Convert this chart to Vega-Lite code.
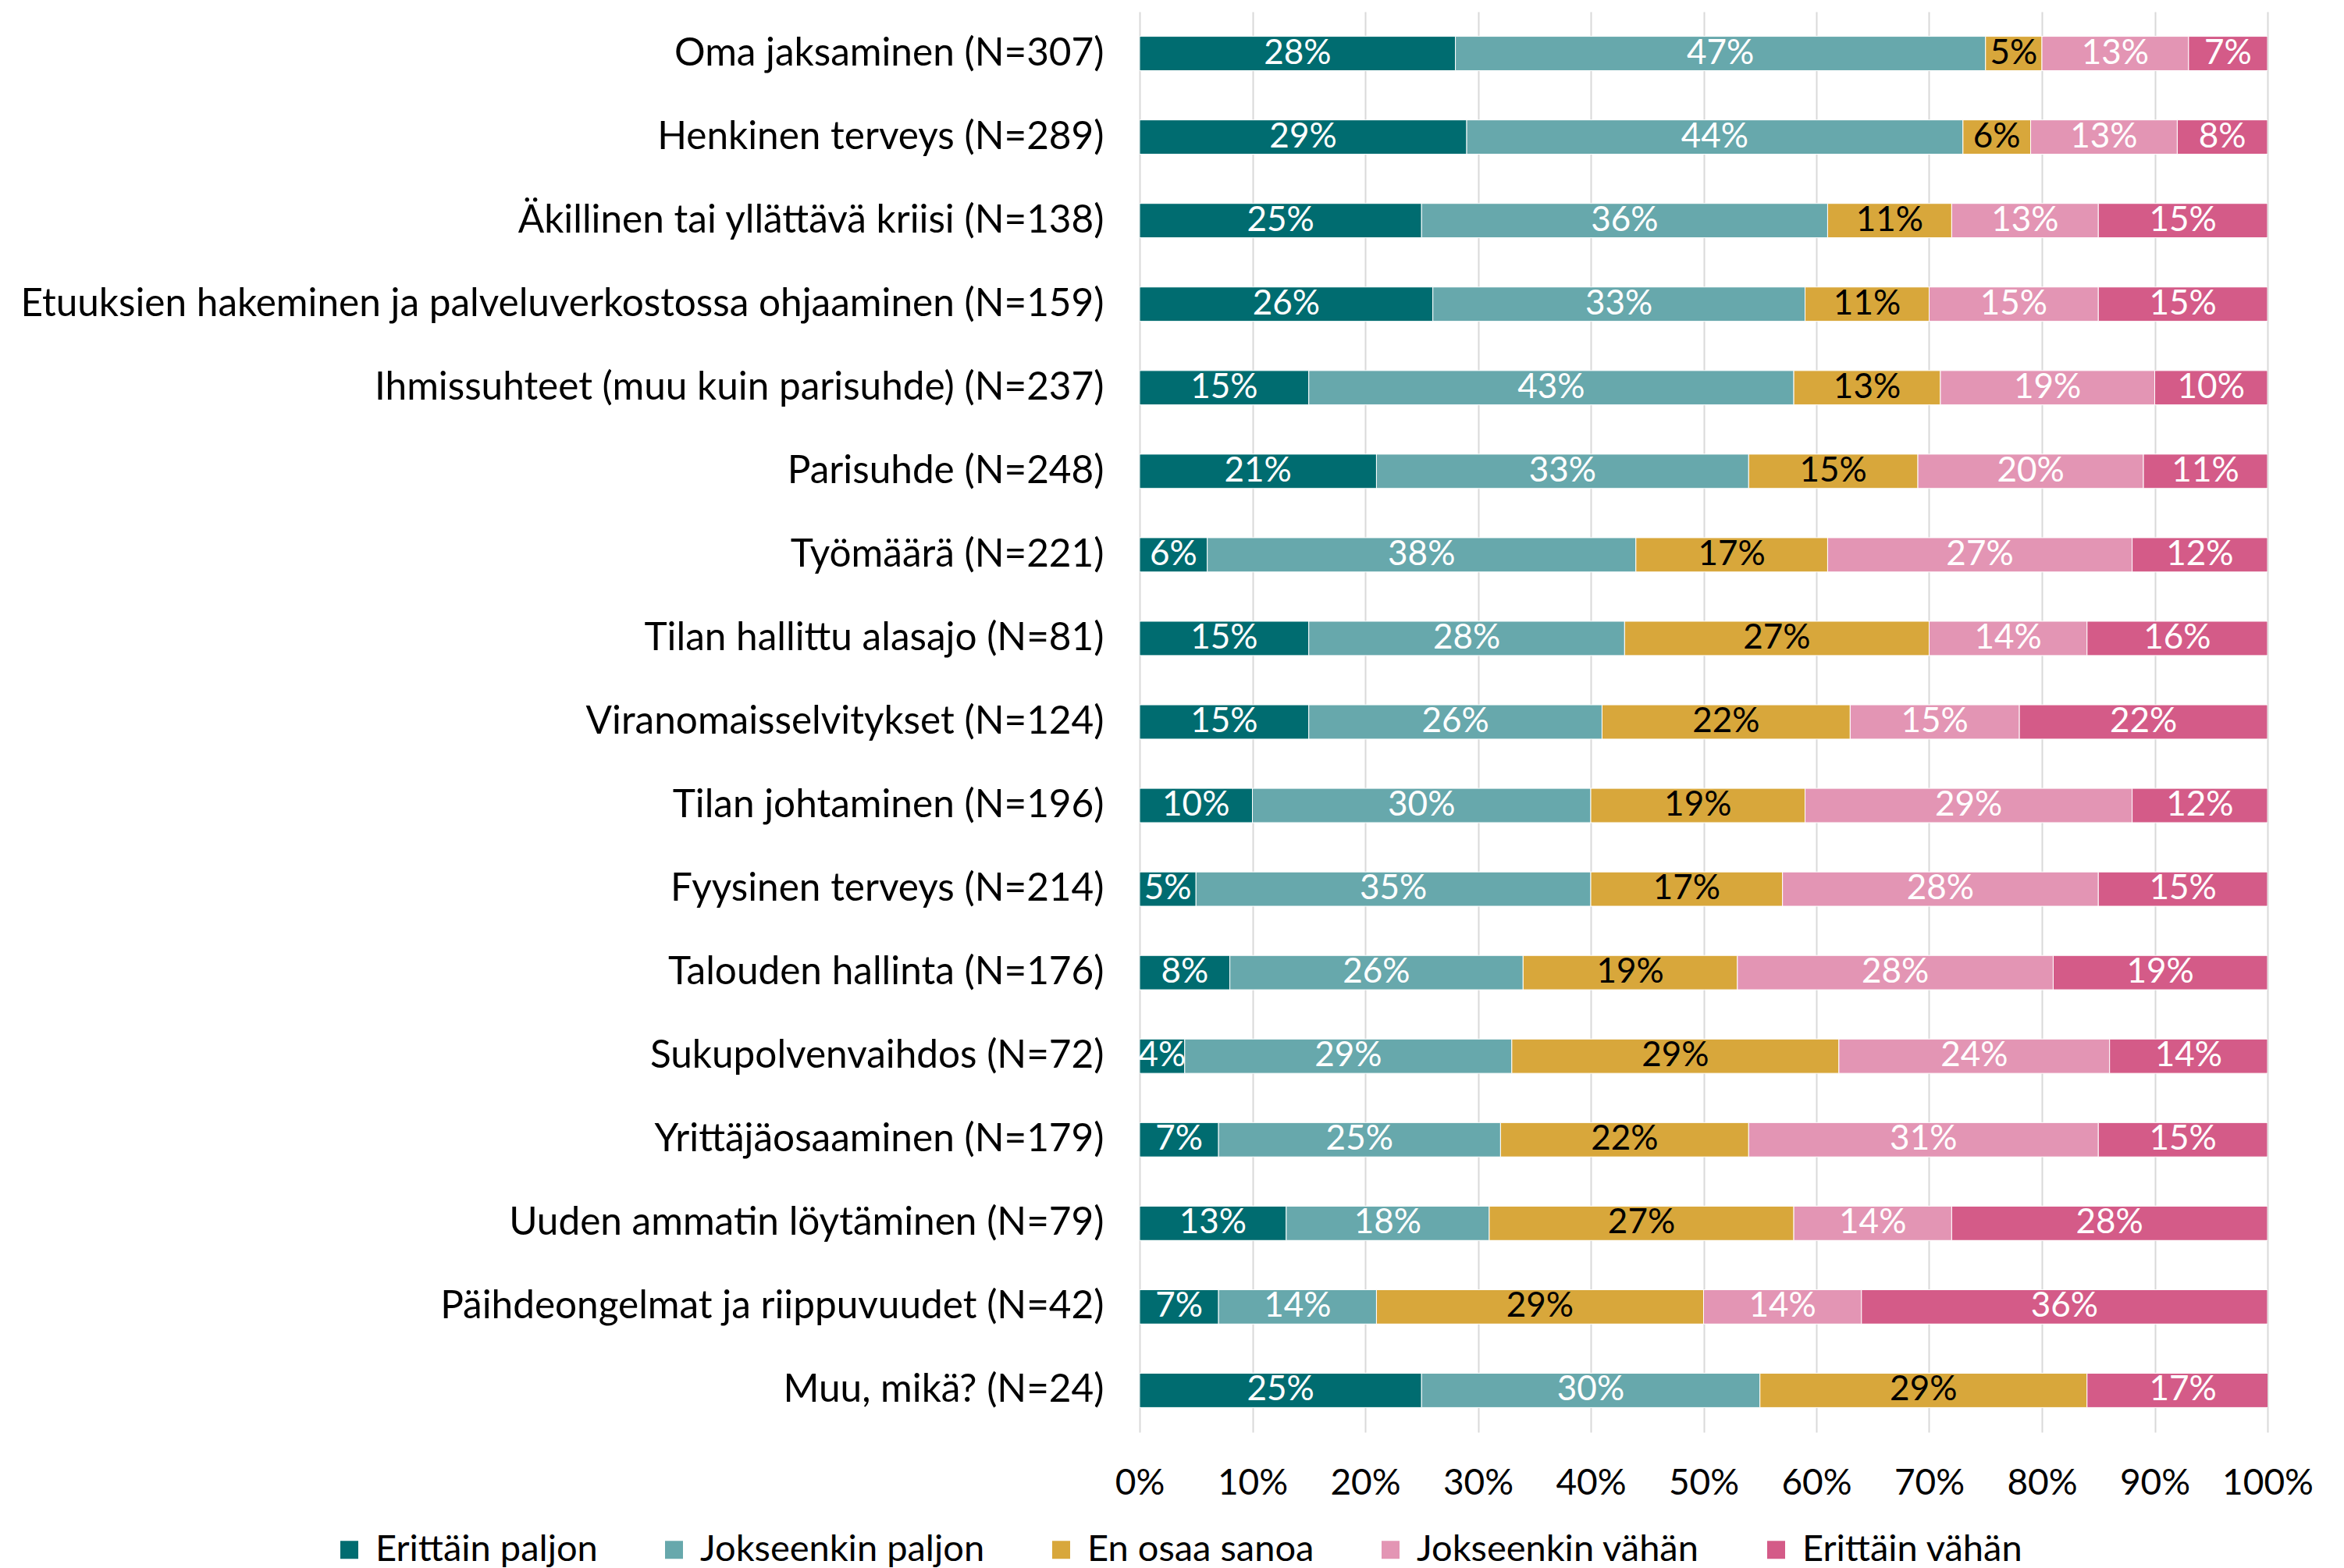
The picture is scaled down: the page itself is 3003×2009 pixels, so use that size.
{
  "$schema": "https://vega.github.io/schema/vega-lite/v6.json",
  "width": 1445,
  "height": 1820,
  "autosize": {"type": "none"},
  "padding": {"left": 1460, "top": 15, "right": 98, "bottom": 174},
  "background": "white",
  "config": {"font": "Lato", "view": {"stroke": null}},
  "data": {"values": [
    {"c": "Oma jaksaminen (N=307)", "s": "Erittäin paljon", "k": 1, "v": 0.28},
    {"c": "Oma jaksaminen (N=307)", "s": "Jokseenkin paljon", "k": 2, "v": 0.47},
    {"c": "Oma jaksaminen (N=307)", "s": "En osaa sanoa", "k": 3, "v": 0.05},
    {"c": "Oma jaksaminen (N=307)", "s": "Jokseenkin vähän", "k": 4, "v": 0.13},
    {"c": "Oma jaksaminen (N=307)", "s": "Erittäin vähän", "k": 5, "v": 0.07},
    {"c": "Henkinen terveys (N=289)", "s": "Erittäin paljon", "k": 1, "v": 0.29},
    {"c": "Henkinen terveys (N=289)", "s": "Jokseenkin paljon", "k": 2, "v": 0.44},
    {"c": "Henkinen terveys (N=289)", "s": "En osaa sanoa", "k": 3, "v": 0.06},
    {"c": "Henkinen terveys (N=289)", "s": "Jokseenkin vähän", "k": 4, "v": 0.13},
    {"c": "Henkinen terveys (N=289)", "s": "Erittäin vähän", "k": 5, "v": 0.08},
    {"c": "Äkillinen tai yllättävä kriisi (N=138)", "s": "Erittäin paljon", "k": 1, "v": 0.25},
    {"c": "Äkillinen tai yllättävä kriisi (N=138)", "s": "Jokseenkin paljon", "k": 2, "v": 0.36},
    {"c": "Äkillinen tai yllättävä kriisi (N=138)", "s": "En osaa sanoa", "k": 3, "v": 0.11},
    {"c": "Äkillinen tai yllättävä kriisi (N=138)", "s": "Jokseenkin vähän", "k": 4, "v": 0.13},
    {"c": "Äkillinen tai yllättävä kriisi (N=138)", "s": "Erittäin vähän", "k": 5, "v": 0.15},
    {"c": "Etuuksien hakeminen ja palveluverkostossa ohjaaminen (N=159)", "s": "Erittäin paljon", "k": 1, "v": 0.26},
    {"c": "Etuuksien hakeminen ja palveluverkostossa ohjaaminen (N=159)", "s": "Jokseenkin paljon", "k": 2, "v": 0.33},
    {"c": "Etuuksien hakeminen ja palveluverkostossa ohjaaminen (N=159)", "s": "En osaa sanoa", "k": 3, "v": 0.11},
    {"c": "Etuuksien hakeminen ja palveluverkostossa ohjaaminen (N=159)", "s": "Jokseenkin vähän", "k": 4, "v": 0.15},
    {"c": "Etuuksien hakeminen ja palveluverkostossa ohjaaminen (N=159)", "s": "Erittäin vähän", "k": 5, "v": 0.15},
    {"c": "Ihmissuhteet (muu kuin parisuhde) (N=237)", "s": "Erittäin paljon", "k": 1, "v": 0.15},
    {"c": "Ihmissuhteet (muu kuin parisuhde) (N=237)", "s": "Jokseenkin paljon", "k": 2, "v": 0.43},
    {"c": "Ihmissuhteet (muu kuin parisuhde) (N=237)", "s": "En osaa sanoa", "k": 3, "v": 0.13},
    {"c": "Ihmissuhteet (muu kuin parisuhde) (N=237)", "s": "Jokseenkin vähän", "k": 4, "v": 0.19},
    {"c": "Ihmissuhteet (muu kuin parisuhde) (N=237)", "s": "Erittäin vähän", "k": 5, "v": 0.10},
    {"c": "Parisuhde (N=248)", "s": "Erittäin paljon", "k": 1, "v": 0.21},
    {"c": "Parisuhde (N=248)", "s": "Jokseenkin paljon", "k": 2, "v": 0.33},
    {"c": "Parisuhde (N=248)", "s": "En osaa sanoa", "k": 3, "v": 0.15},
    {"c": "Parisuhde (N=248)", "s": "Jokseenkin vähän", "k": 4, "v": 0.20},
    {"c": "Parisuhde (N=248)", "s": "Erittäin vähän", "k": 5, "v": 0.11},
    {"c": "Työmäärä (N=221)", "s": "Erittäin paljon", "k": 1, "v": 0.06},
    {"c": "Työmäärä (N=221)", "s": "Jokseenkin paljon", "k": 2, "v": 0.38},
    {"c": "Työmäärä (N=221)", "s": "En osaa sanoa", "k": 3, "v": 0.17},
    {"c": "Työmäärä (N=221)", "s": "Jokseenkin vähän", "k": 4, "v": 0.27},
    {"c": "Työmäärä (N=221)", "s": "Erittäin vähän", "k": 5, "v": 0.12},
    {"c": "Tilan hallittu alasajo (N=81)", "s": "Erittäin paljon", "k": 1, "v": 0.15},
    {"c": "Tilan hallittu alasajo (N=81)", "s": "Jokseenkin paljon", "k": 2, "v": 0.28},
    {"c": "Tilan hallittu alasajo (N=81)", "s": "En osaa sanoa", "k": 3, "v": 0.27},
    {"c": "Tilan hallittu alasajo (N=81)", "s": "Jokseenkin vähän", "k": 4, "v": 0.14},
    {"c": "Tilan hallittu alasajo (N=81)", "s": "Erittäin vähän", "k": 5, "v": 0.16},
    {"c": "Viranomaisselvitykset (N=124)", "s": "Erittäin paljon", "k": 1, "v": 0.15},
    {"c": "Viranomaisselvitykset (N=124)", "s": "Jokseenkin paljon", "k": 2, "v": 0.26},
    {"c": "Viranomaisselvitykset (N=124)", "s": "En osaa sanoa", "k": 3, "v": 0.22},
    {"c": "Viranomaisselvitykset (N=124)", "s": "Jokseenkin vähän", "k": 4, "v": 0.15},
    {"c": "Viranomaisselvitykset (N=124)", "s": "Erittäin vähän", "k": 5, "v": 0.22},
    {"c": "Tilan johtaminen (N=196)", "s": "Erittäin paljon", "k": 1, "v": 0.10},
    {"c": "Tilan johtaminen (N=196)", "s": "Jokseenkin paljon", "k": 2, "v": 0.30},
    {"c": "Tilan johtaminen (N=196)", "s": "En osaa sanoa", "k": 3, "v": 0.19},
    {"c": "Tilan johtaminen (N=196)", "s": "Jokseenkin vähän", "k": 4, "v": 0.29},
    {"c": "Tilan johtaminen (N=196)", "s": "Erittäin vähän", "k": 5, "v": 0.12},
    {"c": "Fyysinen terveys (N=214)", "s": "Erittäin paljon", "k": 1, "v": 0.05},
    {"c": "Fyysinen terveys (N=214)", "s": "Jokseenkin paljon", "k": 2, "v": 0.35},
    {"c": "Fyysinen terveys (N=214)", "s": "En osaa sanoa", "k": 3, "v": 0.17},
    {"c": "Fyysinen terveys (N=214)", "s": "Jokseenkin vähän", "k": 4, "v": 0.28},
    {"c": "Fyysinen terveys (N=214)", "s": "Erittäin vähän", "k": 5, "v": 0.15},
    {"c": "Talouden hallinta (N=176)", "s": "Erittäin paljon", "k": 1, "v": 0.08},
    {"c": "Talouden hallinta (N=176)", "s": "Jokseenkin paljon", "k": 2, "v": 0.26},
    {"c": "Talouden hallinta (N=176)", "s": "En osaa sanoa", "k": 3, "v": 0.19},
    {"c": "Talouden hallinta (N=176)", "s": "Jokseenkin vähän", "k": 4, "v": 0.28},
    {"c": "Talouden hallinta (N=176)", "s": "Erittäin vähän", "k": 5, "v": 0.19},
    {"c": "Sukupolvenvaihdos (N=72)", "s": "Erittäin paljon", "k": 1, "v": 0.04},
    {"c": "Sukupolvenvaihdos (N=72)", "s": "Jokseenkin paljon", "k": 2, "v": 0.29},
    {"c": "Sukupolvenvaihdos (N=72)", "s": "En osaa sanoa", "k": 3, "v": 0.29},
    {"c": "Sukupolvenvaihdos (N=72)", "s": "Jokseenkin vähän", "k": 4, "v": 0.24},
    {"c": "Sukupolvenvaihdos (N=72)", "s": "Erittäin vähän", "k": 5, "v": 0.14},
    {"c": "Yrittäjäosaaminen (N=179)", "s": "Erittäin paljon", "k": 1, "v": 0.07},
    {"c": "Yrittäjäosaaminen (N=179)", "s": "Jokseenkin paljon", "k": 2, "v": 0.25},
    {"c": "Yrittäjäosaaminen (N=179)", "s": "En osaa sanoa", "k": 3, "v": 0.22},
    {"c": "Yrittäjäosaaminen (N=179)", "s": "Jokseenkin vähän", "k": 4, "v": 0.31},
    {"c": "Yrittäjäosaaminen (N=179)", "s": "Erittäin vähän", "k": 5, "v": 0.15},
    {"c": "Uuden ammatin löytäminen (N=79)", "s": "Erittäin paljon", "k": 1, "v": 0.13},
    {"c": "Uuden ammatin löytäminen (N=79)", "s": "Jokseenkin paljon", "k": 2, "v": 0.18},
    {"c": "Uuden ammatin löytäminen (N=79)", "s": "En osaa sanoa", "k": 3, "v": 0.27},
    {"c": "Uuden ammatin löytäminen (N=79)", "s": "Jokseenkin vähän", "k": 4, "v": 0.14},
    {"c": "Uuden ammatin löytäminen (N=79)", "s": "Erittäin vähän", "k": 5, "v": 0.28},
    {"c": "Päihdeongelmat ja riippuvuudet (N=42)", "s": "Erittäin paljon", "k": 1, "v": 0.07},
    {"c": "Päihdeongelmat ja riippuvuudet (N=42)", "s": "Jokseenkin paljon", "k": 2, "v": 0.14},
    {"c": "Päihdeongelmat ja riippuvuudet (N=42)", "s": "En osaa sanoa", "k": 3, "v": 0.29},
    {"c": "Päihdeongelmat ja riippuvuudet (N=42)", "s": "Jokseenkin vähän", "k": 4, "v": 0.14},
    {"c": "Päihdeongelmat ja riippuvuudet (N=42)", "s": "Erittäin vähän", "k": 5, "v": 0.36},
    {"c": "Muu, mikä? (N=24)", "s": "Erittäin paljon", "k": 1, "v": 0.25},
    {"c": "Muu, mikä? (N=24)", "s": "Jokseenkin paljon", "k": 2, "v": 0.30},
    {"c": "Muu, mikä? (N=24)", "s": "En osaa sanoa", "k": 3, "v": 0.29},
    {"c": "Muu, mikä? (N=24)", "s": "Erittäin vähän", "k": 5, "v": 0.17}
  ]},
  "transform": [
    {"stack": "v", "groupby": ["c"], "sort": [{"field": "k", "order": "ascending"}], "as": ["v0", "v1"]},
    {"calculate": "(datum.v0 + datum.v1) / 2", "as": "m"}
  ],
  "encoding": {
    "y": {
      "field": "c", "type": "nominal",
      "sort": ["Oma jaksaminen (N=307)", "Henkinen terveys (N=289)", "Äkillinen tai yllättävä kriisi (N=138)", "Etuuksien hakeminen ja palveluverkostossa ohjaaminen (N=159)", "Ihmissuhteet (muu kuin parisuhde) (N=237)", "Parisuhde (N=248)", "Työmäärä (N=221)", "Tilan hallittu alasajo (N=81)", "Viranomaisselvitykset (N=124)", "Tilan johtaminen (N=196)", "Fyysinen terveys (N=214)", "Talouden hallinta (N=176)", "Sukupolvenvaihdos (N=72)", "Yrittäjäosaaminen (N=179)", "Uuden ammatin löytäminen (N=79)", "Päihdeongelmat ja riippuvuudet (N=42)", "Muu, mikä? (N=24)"],
      "scale": {"paddingInner": 0.59, "paddingOuter": 0.295},
      "axis": {"title": null, "domain": false, "ticks": false, "labelFontSize": 49.5, "labelColor": "#000000", "labelPadding": 46, "labelLimit": 0}
    }
  },
  "layer": [
    {
      "mark": {"type": "bar", "clip": true, "stroke": "#ffffff", "strokeWidth": 1},
      "encoding": {
        "x": {
          "field": "v0", "type": "quantitative",
          "scale": {"domain": [0, 1], "nice": false},
          "axis": {"title": null, "format": ".0%", "values": [0, 0.1, 0.2, 0.3, 0.4, 0.5, 0.6, 0.7, 0.8, 0.9, 1], "labelOverlap": false, "labelFlush": false, "domain": false, "ticks": false, "grid": true, "gridColor": "#d9d9d9", "gridWidth": 2, "labelFontSize": 46, "labelColor": "#000000", "labelPadding": 43}
        },
        "x2": {"field": "v1"},
        "color": {
          "field": "s", "type": "nominal",
          "scale": {"domain": ["Erittäin paljon", "Jokseenkin paljon", "En osaa sanoa", "Jokseenkin vähän", "Erittäin vähän"], "range": ["#006c70", "#67a8ac", "#d8a73b", "#e395b4", "#d45b88"]},
          "legend": {"title": null, "orient": "none", "direction": "horizontal", "legendX": -1036, "legendY": 1947, "symbolType": "square", "symbolSize": 529, "symbolStrokeWidth": 0, "labelFontSize": 47, "labelLimit": 0, "labelColor": "#000000", "columnPadding": 74, "labelOffset": 10, "padding": 0}
        }
      }
    },
    {
      "mark": {"type": "text", "fontSize": 44, "baseline": "middle", "align": "center"},
      "encoding": {
        "x": {"field": "m", "type": "quantitative"},
        "text": {"field": "v", "type": "quantitative", "format": ".0%"},
        "color": {"condition": {"test": "datum.s === 'En osaa sanoa'", "value": "#000000"}, "value": "#ffffff"}
      }
    }
  ]
}
